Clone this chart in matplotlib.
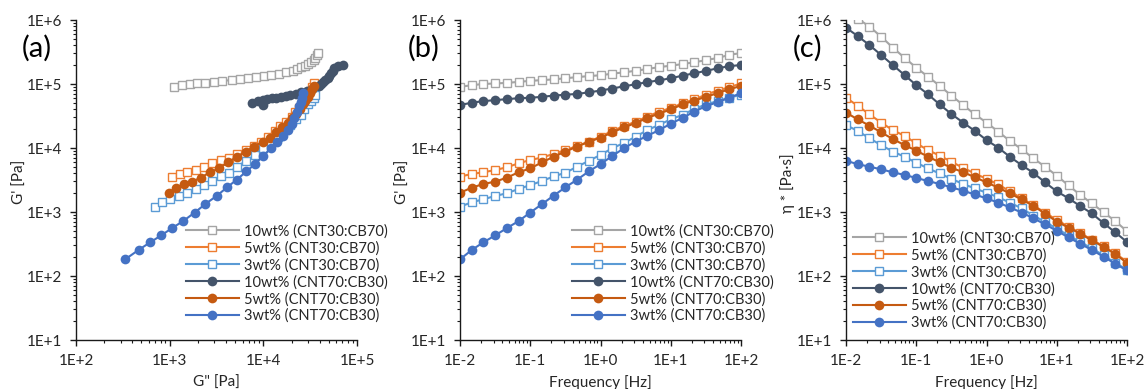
import numpy as np
import matplotlib
matplotlib.use("Agg")
import matplotlib.pyplot as plt
from matplotlib.ticker import FuncFormatter, LogLocator, NullFormatter

plt.rcParams['font.family'] = ['Lato', 'DejaVu Sans']

# frequency grid of the sweep [Hz]
freq = [0.01, 0.0147, 0.0215, 0.0316, 0.0464, 0.0681,
        0.1, 0.147, 0.215, 0.316, 0.464, 0.681,
        1, 1.47, 2.15, 3.16, 4.64, 6.81,
        10, 14.7, 21.5, 31.6, 46.4, 68.1, 100]

labels = ["10wt% (CNT30:CB70)", "5wt% (CNT30:CB70)", "3wt% (CNT30:CB70)",
          "10wt% (CNT70:CB30)", "5wt% (CNT70:CB30)", "3wt% (CNT70:CB30)"]

# storage modulus G' [Pa]
g1_10_cnt30 = [9.0e4, 9.6e4, 1.0e5, 1.02e5, 1.04e5, 1.08e5, 1.12e5, 1.15e5, 1.18e5, 1.23e5, 1.28e5, 1.33e5, 1.37e5,
               1.45e5, 1.52e5, 1.61e5, 1.71e5, 1.84e5, 1.93e5, 2.05e5, 2.18e5, 2.36e5, 2.55e5, 2.85e5, 3.05e5]
g1_5_cnt30 = [3.57e3, 3.93e3, 4.17e3, 4.53e3, 4.99e3, 5.76e3, 6.5e3, 7.1e3, 8.1e3, 9.3e3, 1.07e4, 1.26e4, 1.5e4,
              1.85e4, 2.2e4, 2.57e4, 3.1e4, 3.7e4, 4.2e4, 5.0e4, 5.75e4, 6.8e4, 7.9e4, 8.9e4, 1.02e5]
g1_3_cnt30 = [1.21e3, 1.42e3, 1.58e3, 1.78e3, 1.96e3, 2.29e3, 2.63e3, 3.05e3, 3.6e3, 4.1e3, 5.1e3, 6.3e3, 7.8e3,
              9.9e3, 1.2e4, 1.5e4, 1.9e4, 2.3e4, 2.8e4, 3.3e4, 4.05e4, 4.8e4, 5.4e4, 6.1e4, 6.8e4]
g1_10_cnt70 = [4.7e4, 5.1e4, 5.4e4, 5.6e4, 5.8e4, 6.0e4, 6.1e4, 6.3e4, 6.6e4, 6.8e4, 7.0e4, 7.4e4, 7.9e4,
               8.5e4, 9.2e4, 9.9e4, 1.07e5, 1.14e5, 1.23e5, 1.35e5, 1.47e5, 1.6e5, 1.76e5, 1.9e5, 1.98e5]
g1_5_cnt70 = [2.0e3, 2.4e3, 2.74e3, 2.98e3, 3.44e3, 4.17e3, 4.8e3, 5.97e3, 7.3e3, 8.8e3, 1.05e4, 1.25e4, 1.45e4,
              1.75e4, 2.1e4, 2.45e4, 2.95e4, 3.45e4, 4.0e4, 4.8e4, 5.5e4, 6.3e4, 7.2e4, 8.3e4, 9.3e4]
g1_3_cnt70 = [1.82e2, 2.55e2, 3.36e2, 4.3e2, 5.6e2, 7.2e2, 9.8e2, 1.33e3, 1.8e3, 2.43e3, 3.2e3, 4.3e3, 5.6e3,
              7.5e3, 9.9e3, 1.26e4, 1.55e4, 1.9e4, 2.4e4, 2.95e4, 3.7e4, 4.5e4, 5.2e4, 6.1e4, 7.2e4]

# loss modulus G'' [Pa]
g2_10_cnt30 = [1.1e3, 1.35e3, 1.64e3, 1.96e3, 2.4e3, 3.0e3, 3.6e3, 4.6e3, 5.6e3, 6.8e3, 8.3e3, 1.02e4, 1.22e4,
               1.47e4, 1.74e4, 2.05e4, 2.3e4, 2.5e4, 2.8e4, 3.0e4, 3.2e4, 3.45e4, 3.6e4, 3.7e4, 3.8e4]
g2_5_cnt30 = [1.07e3, 1.3e3, 1.55e3, 1.9e3, 2.3e3, 2.8e3, 3.5e3, 4.3e3, 5.2e3, 6.5e3, 7.9e3, 9.5e3, 1.12e4,
              1.32e4, 1.51e4, 1.74e4, 2.0e4, 2.2e4, 2.4e4, 2.6e4, 2.8e4, 3.0e4, 3.15e4, 3.3e4, 3.5e4]
g2_3_cnt30 = [6.9e2, 8.3e2, 1.02e3, 1.26e3, 1.55e3, 1.9e3, 2.35e3, 2.8e3, 3.5e3, 4.3e3, 5.2e3, 6.6e3, 8.1e3,
              1.0e4, 1.2e4, 1.45e4, 1.7e4, 1.95e4, 2.24e4, 2.5e4, 2.75e4, 3.0e4, 3.25e4, 3.45e4, 3.6e4]
g2_10_cnt70 = [9.8e3, 7.6e3, 8.7e3, 9.8e3, 1.1e4, 1.23e4, 1.38e4, 1.55e4, 1.74e4, 1.95e4, 2.24e4, 2.5e4, 2.9e4,
               3.3e4, 3.9e4, 4.1e4, 4.3e4, 4.6e4, 4.85e4, 5.0e4, 5.25e4, 5.5e4, 5.75e4, 6.2e4, 7.1e4]
g2_5_cnt70 = [9.8e2, 1.17e3, 1.41e3, 1.74e3, 2.14e3, 2.7e3, 3.35e3, 4.2e3, 5.2e3, 6.5e3, 7.9e3, 9.8e3, 1.17e4,
              1.38e4, 1.58e4, 1.82e4, 2.04e4, 2.24e4, 2.45e4, 2.63e4, 2.8e4, 3.0e4, 3.15e4, 3.3e4, 3.5e4]
g2_3_cnt70 = [3.35e2, 4.65e2, 6.2e2, 8.1e2, 1.06e3, 1.39e3, 1.85e3, 2.4e3, 3.2e3, 4.1e3, 5.2e3, 6.6e3, 8.1e3,
              1.0e4, 1.2e4, 1.41e4, 1.62e4, 1.82e4, 2.0e4, 2.14e4, 2.3e4, 2.4e4, 2.5e4, 2.57e4, 2.63e4]

# complex viscosity eta* [Pa s]
eta_10_cnt30 = [1.45e6, 1.05e6, 7.9e5, 5.5e5, 3.7e5, 2.57e5, 1.8e5, 1.3e5, 9.4e4, 6.6e4, 4.7e4, 3.36e4, 2.5e4,
                1.8e4, 1.29e4, 9.6e3, 6.9e3, 5.1e3, 3.7e3, 2.6e3, 1.86e3, 1.36e3, 9.9e2, 7.2e2, 5.0e2]
eta_5_cnt30 = [6.1e4, 4.57e4, 3.36e4, 2.5e4, 1.9e4, 1.55e4, 1.18e4, 9.3e3, 7.6e3, 6.1e3, 4.9e3, 4.0e3, 3.3e3,
               2.7e3, 2.1e3, 1.65e3, 1.27e3, 9.8e2, 7.5e2, 5.9e2, 4.7e2, 3.7e2, 2.9e2, 2.25e2, 1.67e2]
eta_3_cnt30 = [2.28e4, 1.85e4, 1.42e4, 1.11e4, 8.8e3, 7.3e3, 5.9e3, 4.8e3, 4.0e3, 3.3e3, 2.74e3, 2.34e3, 2.0e3,
               1.7e3, 1.4e3, 1.14e3, 8.8e2, 7.0e2, 5.5e2, 4.3e2, 3.4e2, 2.7e2, 2.1e2, 1.6e2, 1.26e2]
eta_10_cnt70 = [7.6e5, 5.6e5, 4.07e5, 2.84e5, 1.98e5, 1.38e5, 9.6e4, 6.9e4, 4.8e4, 3.4e4, 2.5e4, 1.85e4, 1.33e4,
                1.01e4, 7.3e3, 5.4e3, 4.1e3, 2.9e3, 2.1e3, 1.64e3, 1.24e3, 9.5e2, 6.7e2, 4.8e2, 3.4e2]
eta_5_cnt70 = [3.57e4, 2.8e4, 2.24e4, 1.76e4, 1.38e4, 1.11e4, 9.1e3, 7.3e3, 6.0e3, 4.9e3, 4.2e3, 3.5e3, 2.9e3,
               2.4e3, 1.95e3, 1.57e3, 1.25e3, 9.4e2, 7.1e2, 5.7e2, 4.6e2, 3.6e2, 2.85e2, 2.2e2, 1.6e2]
eta_3_cnt70 = [6.3e3, 5.6e3, 5.1e3, 4.65e3, 4.17e3, 3.8e3, 3.4e3, 3.05e3, 2.74e3, 2.43e3, 2.15e3, 1.88e3, 1.63e3,
               1.4e3, 1.18e3, 9.8e2, 8.0e2, 6.4e2, 5.1e2, 4.0e2, 3.2e2, 2.55e2, 2.0e2, 1.55e2, 1.22e2]

colors = ['#A5A5A5', '#ED7D31', '#5B9BD5', '#44546A', '#C55A11', '#4472C4']

g1_all = [g1_10_cnt30, g1_5_cnt30, g1_3_cnt30, g1_10_cnt70, g1_5_cnt70, g1_3_cnt70]
g2_all = [g2_10_cnt30, g2_5_cnt30, g2_3_cnt30, g2_10_cnt70, g2_5_cnt70, g2_3_cnt70]
eta_all = [eta_10_cnt30, eta_5_cnt30, eta_3_cnt30, eta_10_cnt70, eta_5_cnt70, eta_3_cnt70]

TXT = '#262626'
W, H = 1144, 389


def style(i):
    # first three series: open squares, last three: filled circles
    if i < 3:
        return dict(color=colors[i], lw=1.5, marker='s', ms=6.3, mfc='white', mec=colors[i], mew=1.0)
    return dict(color=colors[i], lw=1.5, marker='o', ms=7, mfc=colors[i], mec=colors[i], mew=0)


def setup(ax, xlim):
    ax.set_xscale('log')
    ax.set_yscale('log')
    ax.set_xlim(*xlim)
    ax.set_ylim(10, 1e6)
    for s in ['top', 'right']:
        ax.spines[s].set_visible(False)
    for s in ['left', 'bottom']:
        ax.spines[s].set_linewidth(1.0)
        ax.spines[s].set_color('#1a1a1a')
    fmt = FuncFormatter(lambda v, p: f"1E{int(round(np.log10(v))):+d}")
    for axis in [ax.xaxis, ax.yaxis]:
        axis.set_major_locator(LogLocator(base=10, numticks=20))
        axis.set_minor_locator(LogLocator(base=10, subs=np.arange(2, 10), numticks=20))
        axis.set_major_formatter(fmt)
        axis.set_minor_formatter(NullFormatter())
    ax.tick_params(which='major', direction='out', length=4, width=1.0, labelsize=11, colors='#1a1a1a',
                   labelcolor=TXT)
    ax.tick_params(axis='x', which='major', pad=6)
    ax.tick_params(axis='y', which='major', pad=6)
    ax.tick_params(which='minor', direction='out', length=2.5, width=0.8, colors='#1a1a1a')


fig = plt.figure(figsize=(W / 100, H / 100), dpi=100)

lefts = [76, 460, 846]
axes = [fig.add_axes([l / W, 1 - 340 / H, 281 / W, 320 / H]) for l in lefts]
ax_a, ax_b, ax_c = axes

# (a) G' vs G''
for i in range(6):
    ax_a.plot(g2_all[i], g1_all[i], label=labels[i], **style(i))
setup(ax_a, (1e2, 1e5))

# (b) G' vs frequency
for i in range(6):
    ax_b.plot(freq, g1_all[i], label=labels[i], **style(i))
setup(ax_b, (1e-2, 1e2))

# (c) eta* vs frequency
for i in range(6):
    ax_c.plot(freq, eta_all[i], label=labels[i], **style(i))
setup(ax_c, (1e-2, 1e2))

# legends
leg_pos = [(186, 224), (572, 224), (853, 231)]
for ax, (lx, ly) in zip(axes, leg_pos):
    leg = ax.legend(loc='upper left', bbox_to_anchor=(lx / W, 1 - ly / H), bbox_transform=fig.transFigure,
                    frameon=False, fontsize=10.5, handlelength=3.6, handletextpad=0.35,
                    labelspacing=0.18, borderpad=0, borderaxespad=0)
    for t in leg.get_texts():
        t.set_color(TXT)

# panel letters
for x, s in [(22, "(a)"), (408, "(b)"), (793, "(c)")]:
    fig.text(x / W, 1 - 48 / H, s, fontsize=21, color='black', va='center', ha='left')

# axis titles
fig.text(20 / W, 1 - 182 / H, "G' [Pa]", rotation=90, fontsize=11, color=TXT, va='center', ha='center')
fig.text(403 / W, 1 - 182 / H, "G' [Pa]", rotation=90, fontsize=11, color=TXT, va='center', ha='center')
fig.text(788 / W, 1 - 183 / H, "η * [Pa·s]", rotation=90, fontsize=11, color=TXT, va='center', ha='center')
fig.text(216 / W, 1 - 383 / H, 'G" [Pa]', fontsize=11, color=TXT, va='center', ha='center')
fig.text(600 / W, 1 - 383 / H, "Frequency [Hz]", fontsize=11, color=TXT, va='center', ha='center')
fig.text(986 / W, 1 - 383 / H, "Frequency [Hz]", fontsize=11, color=TXT, va='center', ha='center')

fig.savefig("out.png", dpi=100)
